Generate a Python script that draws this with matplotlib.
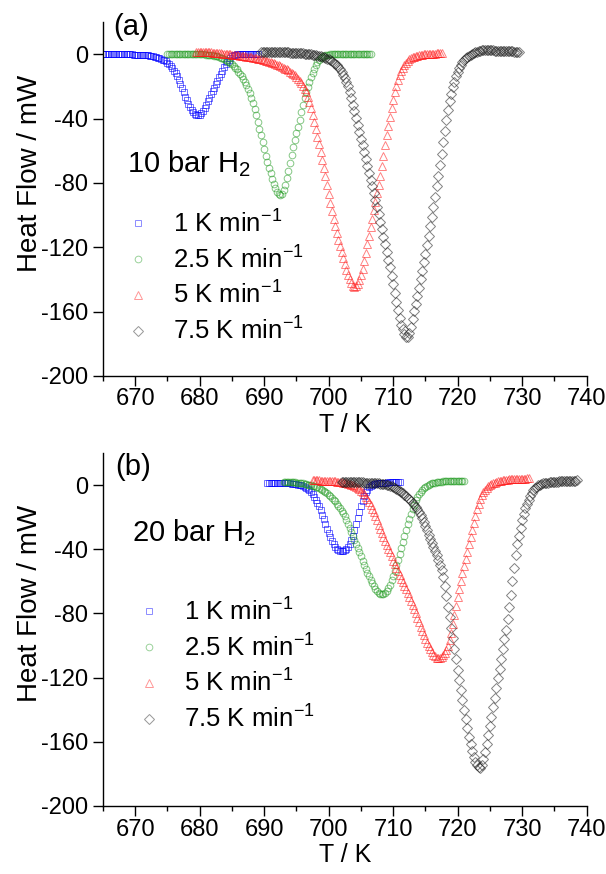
import numpy as np
import matplotlib.pyplot as plt
from matplotlib.ticker import MultipleLocator

plt.rcParams['font.family'] = ['Liberation Sans', 'DejaVu Sans']
plt.rcParams['mathtext.fontset'] = 'custom'
plt.rcParams['mathtext.rm'] = 'Liberation Sans'
plt.rcParams['mathtext.it'] = 'Liberation Sans:italic'
plt.rcParams['axes.unicode_minus'] = False

# temperature grid: first T (K) of each run and step (K); heat flow in mW
step = 0.25

# ---- (a) 10 bar H2 ----
a_start = [665.0, 675.0, 679.5, 689.5]
a_blue = [0.0] * 17 + [
    -0.1, -0.1, -0.2, -0.2, -0.3, -0.3, -0.4, -0.4, -0.5, -0.6,
    -0.7, -0.8, -1.0, -1.2, -1.4, -1.6, -1.9, -2.3, -2.6, -3.0,
    -3.4, -3.9, -4.5, -5.2, -6.2, -7.4, -8.8, -10.3, -12.0, -13.8,
    -16.1, -18.5, -21.1, -23.8, -26.3, -28.6, -30.8, -32.7, -34.5, -36.0,
    -37.1, -37.8, -38.0, -37.6, -36.6, -35.2, -33.4, -31.3, -29.1, -27.0,
    -25.0, -23.0, -20.8, -18.6, -16.4, -14.2, -12.1, -10.2, -8.1, -6.2,
    -4.7, -3.5, -2.3, -1.4, -0.8, -0.4, -0.1, 0.0] + [0.1] * 12
a_green = [0.0] * 24 + [
    -0.2, -0.3, -0.4, -0.55, -0.7, -0.9, -1.1, -1.4, -1.7, -2.1,
    -2.5, -3.0, -3.5, -4.1, -4.8, -5.6, -6.4, -7.4, -8.4, -9.5,
    -10.8, -12.2, -13.7, -15.3, -17.0, -19.2, -21.5, -24.2, -27.0, -30.4,
    -34.0, -38.0, -42.0, -46.2, -50.5, -54.8, -59.0, -63.0, -67.0, -70.6,
    -74.0, -77.4, -80.5, -83.3, -85.5, -87.0, -87.6, -86.8, -84.5, -81.2,
    -77.0, -72.4, -67.5, -62.5, -57.6, -53.2, -49.0, -45.0, -41.0, -36.2,
    -31.5, -27.3, -23.5, -20.1, -17.0, -14.1, -11.5, -8.9, -6.5, -4.9,
    -3.5, -2.6, -1.8, -1.2, -0.8, -0.5, -0.3, -0.1, 0.0] + [0.1, 0.1] + [0.2] * 22
a_red = [
    1.5, 1.45, 1.4, 1.35, 1.3, 1.25, 1.2, 1.15, 1.1, 1.05,
    1.0, 0.9, 0.8, 0.7, 0.6, 0.5, 0.4, 0.3, 0.2, 0.1,
    0.0, -0.1, -0.2, -0.3, -0.4, -0.55, -0.7, -0.85, -1.0, -1.15,
    -1.3, -1.45, -1.6, -1.8, -2.0, -2.2, -2.4, -2.6, -2.8, -3.05,
    -3.3, -3.55, -3.8, -4.1, -4.4, -4.7, -5.0, -5.35, -5.7, -6.1,
    -6.5, -6.95, -7.4, -7.9, -8.4, -8.95, -9.5, -10.1, -10.8, -11.5,
    -12.3, -13.2, -14.2, -15.3, -16.6, -18.0, -19.6, -21.4, -23.5, -26.3,
    -29.5, -33.3, -37.5, -42.0, -46.5, -51.2, -56.0, -60.7, -65.5, -70.7,
    -76.0, -81.5, -87.0, -92.3, -97.5, -102.3, -107.0, -111.4, -115.5, -119.4,
    -123.0, -126.8, -130.5, -133.9, -137.0, -140.0, -142.5, -144.0, -144.8, -144.3,
    -143.0, -140.6, -137.5, -133.3, -128.5, -123.3, -118.0, -112.8, -107.5, -102.2,
    -97.0, -91.8, -86.5, -81.0, -75.5, -69.3, -63.0, -56.7, -50.5, -44.6,
    -39.0, -33.6, -28.5, -23.8, -19.5, -16.0, -13.0, -10.6, -8.5, -6.8,
    -5.3, -4.2, -3.3, -2.6, -2.0, -1.6, -1.2, -0.9, -0.6, -0.4,
    -0.2, -0.1, 0.0, 0.1, 0.2, 0.25, 0.3, 0.35, 0.4, 0.45,
    0.5, 0.5, 0.5]
a_black = [
    1.5, 1.5, 1.5, 1.45, 1.4, 1.4, 1.4, 1.35, 1.3, 1.3,
    1.3, 1.25, 1.2, 1.2, 1.2, 1.15, 1.1, 1.05, 1.0, 0.95,
    0.9, 0.85, 0.8, 0.75, 0.7, 0.6, 0.5, 0.4, 0.3, 0.2,
    0.1, -0.05, -0.2, -0.4, -0.6, -0.85, -1.1, -1.4, -1.7, -2.0,
    -2.4, -2.8, -3.3, -3.9, -4.5, -5.2, -6.0, -7.0, -8.2, -9.5,
    -11.0, -12.8, -14.8, -17.2, -20.0, -23.5, -27.5, -31.5, -35.5, -39.7,
    -44.0, -48.2, -52.5, -56.7, -61.0, -65.2, -69.5, -73.7, -78.0, -82.2,
    -86.5, -90.7, -95.0, -99.5, -104.0, -108.7, -113.5, -118.2, -123.0, -127.7,
    -132.5, -137.7, -143.0, -148.5, -154.0, -159.2, -164.0, -168.0, -171.0, -173.8,
    -175.5, -176.0, -173.5, -169.5, -164.5, -159.8, -155.0, -150.0, -145.0, -139.8,
    -134.5, -129.3, -124.0, -118.5, -113.0, -107.0, -101.0, -94.8, -88.5, -82.0,
    -75.5, -68.8, -62.0, -54.8, -47.5, -40.8, -34.5, -29.2, -24.5, -20.5,
    -17.0, -13.8, -11.0, -8.6, -6.5, -4.9, -3.5, -2.4, -1.5, -0.9,
    -0.3, 0.3, 0.8, 1.2, 1.6, 1.9, 2.2, 2.3, 2.4, 2.4,
    2.4, 2.35, 2.3, 2.3, 2.3, 2.25, 2.2, 2.15, 2.1, 2.05,
    2.0, 1.95, 1.9, 1.85, 1.8, 1.75, 1.7, 1.65, 1.6, 1.55,
    1.5]

# ---- (b) 20 bar H2 ----
b_start = [690.5, 693.0, 697.5, 702.0]
b_blue = [
    1.4, 1.4, 1.4, 1.4, 1.4, 1.35, 1.3, 1.3, 1.3, 1.25,
    1.2, 1.15, 1.1, 1.05, 1.0, 0.9, 0.8, 0.65, 0.5, 0.3,
    0.1, -0.2, -0.6, -1.05, -1.6, -2.3, -3.2, -4.3, -5.6, -7.2,
    -9.0, -11.0, -13.2, -15.8, -18.5, -21.4, -24.3, -27.2, -30.0, -32.6,
    -35.0, -37.0, -38.5, -39.6, -40.3, -40.8, -41.0, -40.9, -40.5, -39.7,
    -38.5, -36.7, -34.5, -31.5, -28.0, -24.3, -20.5, -16.7, -13.0, -9.7,
    -6.8, -4.6, -2.8, -1.5, -0.6, 0.0, 0.5, 0.8, 1.0, 1.15,
    1.3, 1.4, 1.5, 1.55, 1.6, 1.65, 1.7, 1.75, 1.8, 1.85,
    1.9, 1.95, 2.0]
b_green = [
    2.0, 2.0, 2.0, 1.95, 1.9, 1.85, 1.8, 1.7, 1.6, 1.45,
    1.3, 1.15, 1.0, 0.8, 0.6, 0.35, 0.1, -0.15, -0.4, -0.7,
    -1.0, -1.4, -1.8, -2.3, -2.8, -3.5, -4.2, -5.1, -6.0, -7.0,
    -8.0, -9.1, -10.2, -11.6, -13.0, -14.5, -16.0, -17.7, -19.5, -21.7,
    -24.0, -26.8, -29.5, -32.0, -34.5, -37.0, -39.5, -42.0, -44.5, -47.0,
    -49.5, -52.0, -54.5, -56.8, -59.0, -61.1, -63.0, -64.6, -66.0, -67.0,
    -67.8, -68.1, -68.0, -67.2, -66.0, -64.2, -62.0, -59.4, -56.5, -53.3,
    -50.0, -46.6, -43.0, -39.3, -35.5, -31.7, -28.0, -24.4, -21.0, -17.9,
    -15.0, -12.2, -9.5, -7.3, -5.5, -4.0, -2.8, -1.8, -1.0, -0.4,
    0.2, 0.6, 1.0, 1.3, 1.5, 1.7, 1.9, 2.05, 2.2, 2.3,
    2.4, 2.45, 2.5, 2.5, 2.5, 2.5, 2.5, 2.5, 2.5, 2.5,
    2.5, 2.5, 2.5]
b_red = [
    3.0, 3.0, 3.0, 2.95, 2.9, 2.85, 2.8, 2.75, 2.7, 2.65,
    2.6, 2.55, 2.5, 2.4, 2.3, 2.2, 2.1, 1.95, 1.8, 1.6,
    1.4, 1.15, 0.9, 0.6, 0.3, -0.1, -0.6, -1.2, -1.8, -2.6,
    -3.5, -4.6, -5.8, -7.2, -8.8, -10.6, -12.5, -14.7, -17.0, -19.5,
    -22.0, -24.8, -27.5, -30.0, -32.5, -35.0, -37.5, -39.8, -42.0, -44.5,
    -47.0, -49.3, -51.5, -53.8, -56.0, -58.3, -60.5, -62.8, -65.0, -67.3,
    -69.5, -72.0, -74.5, -77.2, -80.0, -82.8, -85.5, -88.3, -91.0, -93.6,
    -96.0, -98.3, -100.5, -102.4, -104.0, -105.6, -106.8, -107.5, -107.8, -107.6,
    -107.0, -106.0, -104.5, -102.5, -100.0, -96.5, -92.0, -86.7, -81.0, -75.2,
    -69.5, -64.5, -59.5, -55.0, -50.5, -46.0, -41.5, -37.0, -32.5, -28.0,
    -23.5, -19.1, -15.0, -11.5, -8.5, -6.3, -4.5, -3.0, -1.8, -0.8,
    0.0, 0.65, 1.2, 1.6, 2.0, 2.3, 2.6, 2.8, 3.0, 3.15,
    3.3, 3.4, 3.5, 3.6, 3.7, 3.75, 3.8, 3.85, 3.9, 3.95,
    4.0, 4.05, 4.1, 4.15, 4.2]
b_black = [
    2.0, 2.0, 2.0, 2.0, 2.0, 1.95, 1.9, 1.9, 1.9, 1.85,
    1.8, 1.75, 1.7, 1.65, 1.6, 1.55, 1.5, 1.45, 1.4, 1.35,
    1.3, 1.2, 1.1, 1.0, 0.9, 0.75, 0.6, 0.4, 0.2, -0.1,
    -0.4, -0.8, -1.2, -1.7, -2.2, -2.8, -3.5, -4.2, -5.0, -5.9,
    -6.8, -7.8, -8.8, -9.9, -11.0, -12.2, -13.5, -14.9, -16.5, -18.4,
    -20.5, -22.9, -25.5, -28.2, -31.0, -33.5, -36.0, -38.5, -41.0, -43.7,
    -46.5, -49.5, -53.0, -57.5, -63.0, -69.3, -76.0, -82.5, -89.0, -95.5,
    -102.0, -108.5, -115.0, -121.3, -127.5, -133.8, -140.0, -145.9, -151.5, -156.8,
    -161.5, -165.8, -169.5, -172.3, -174.5, -175.8, -176.3, -174.5, -171.0, -166.5,
    -161.5, -156.0, -150.0, -144.3, -138.5, -132.5, -126.5, -120.5, -114.5, -108.3,
    -102.0, -96.0, -90.0, -83.3, -76.0, -68.2, -60.0, -51.7, -43.5, -37.0,
    -31.5, -26.5, -22.0, -18.0, -14.5, -11.6, -9.0, -6.8, -5.0, -3.3,
    -2.0, -1.0, -0.2, 0.3, 0.8, 1.1, 1.3, 1.5, 1.6, 1.7,
    1.8, 1.9, 2.0, 2.1, 2.2, 2.25, 2.3, 2.4, 2.5, 2.55,
    2.6, 2.65, 2.7, 2.75, 2.8, 2.85, 2.9]

rates = ['1 K min$^{-1}$', '2.5 K min$^{-1}$', '5 K min$^{-1}$', '7.5 K min$^{-1}$']
markers = ['s', 'o', '^', 'D']
msizes = [3.8, 4.8, 5.6, 4.6]
colors = ['#0000ff', '#1f9a1f', '#ff1a1a', '#1a1a1a']

W, H = 606, 874
fig = plt.figure(figsize=(W / 100, H / 100), dpi=100)
ax_a = fig.add_axes([103 / W, 1 - 376 / H, 483.6 / W, 354 / H])
ax_b = fig.add_axes([103 / W, 1 - 806 / H, 483.6 / W, 353 / H])


def draw(ax, starts, series, tag, gas, tag_xy, gas_xy, leg_xy, ylab_y):
    for s, y, lab, m, ms, c in zip(starts, series, rates, markers, msizes, colors):
        T = s + step * np.arange(len(y))
        ax.plot(T, y, ls='none', marker=m, ms=ms, mfc='none', mec=c,
                mew=0.7, alpha=0.55, label=lab)
    ax.set_xlim(665, 740)
    ax.set_ylim(-200, 20)
    ax.set_xticks(np.arange(670, 741, 10))
    ax.xaxis.set_minor_locator(MultipleLocator(5))
    ax.set_yticks(np.arange(-200, 1, 40))
    for sp in ['top', 'right']:
        ax.spines[sp].set_visible(False)
    for sp in ['left', 'bottom']:
        ax.spines[sp].set_linewidth(1.0)
    ax.tick_params(which='major', direction='out', length=7.5, width=1.0,
                   labelsize=17)
    ax.tick_params(axis='x', which='major', pad=1.5)
    ax.tick_params(axis='y', which='major', pad=3.0)
    ax.tick_params(which='minor', direction='out', length=3.5, width=1.0)
    ax.set_xlabel('T / K', fontsize=18, labelpad=2)
    ax.set_ylabel('Heat Flow / mW', fontsize=20)
    ax.yaxis.set_label_coords(-0.124, ylab_y)
    fig.text(tag_xy[0] / W, 1 - tag_xy[1] / H, tag, fontsize=21, va='baseline')
    fig.text(gas_xy[0] / W, 1 - gas_xy[1] / H, gas, fontsize=21, va='baseline')
    leg = ax.legend(loc='upper left', bbox_to_anchor=(leg_xy[0] / W, 1 - leg_xy[1] / H),
                    bbox_transform=fig.transFigure, frameon=False, fontsize=18.5,
                    numpoints=1, handlelength=1.0, handletextpad=0.86,
                    borderpad=0, borderaxespad=0, labelspacing=0.34)
    for h in leg.legend_handles:
        h.set_alpha(0.45)


draw(ax_a, a_start, [a_blue, a_green, a_red, a_black], '(a)', '10 bar H$_2$',
     (113, 35), (126.7, 171.7), (125, 210), 0.573)
draw(ax_b, b_start, [b_blue, b_green, b_red, b_black], '(b)', '20 bar H$_2$',
     (115, 475), (131.7, 541.7), (136, 598), 0.575)

fig.savefig('out.png', dpi=100)
